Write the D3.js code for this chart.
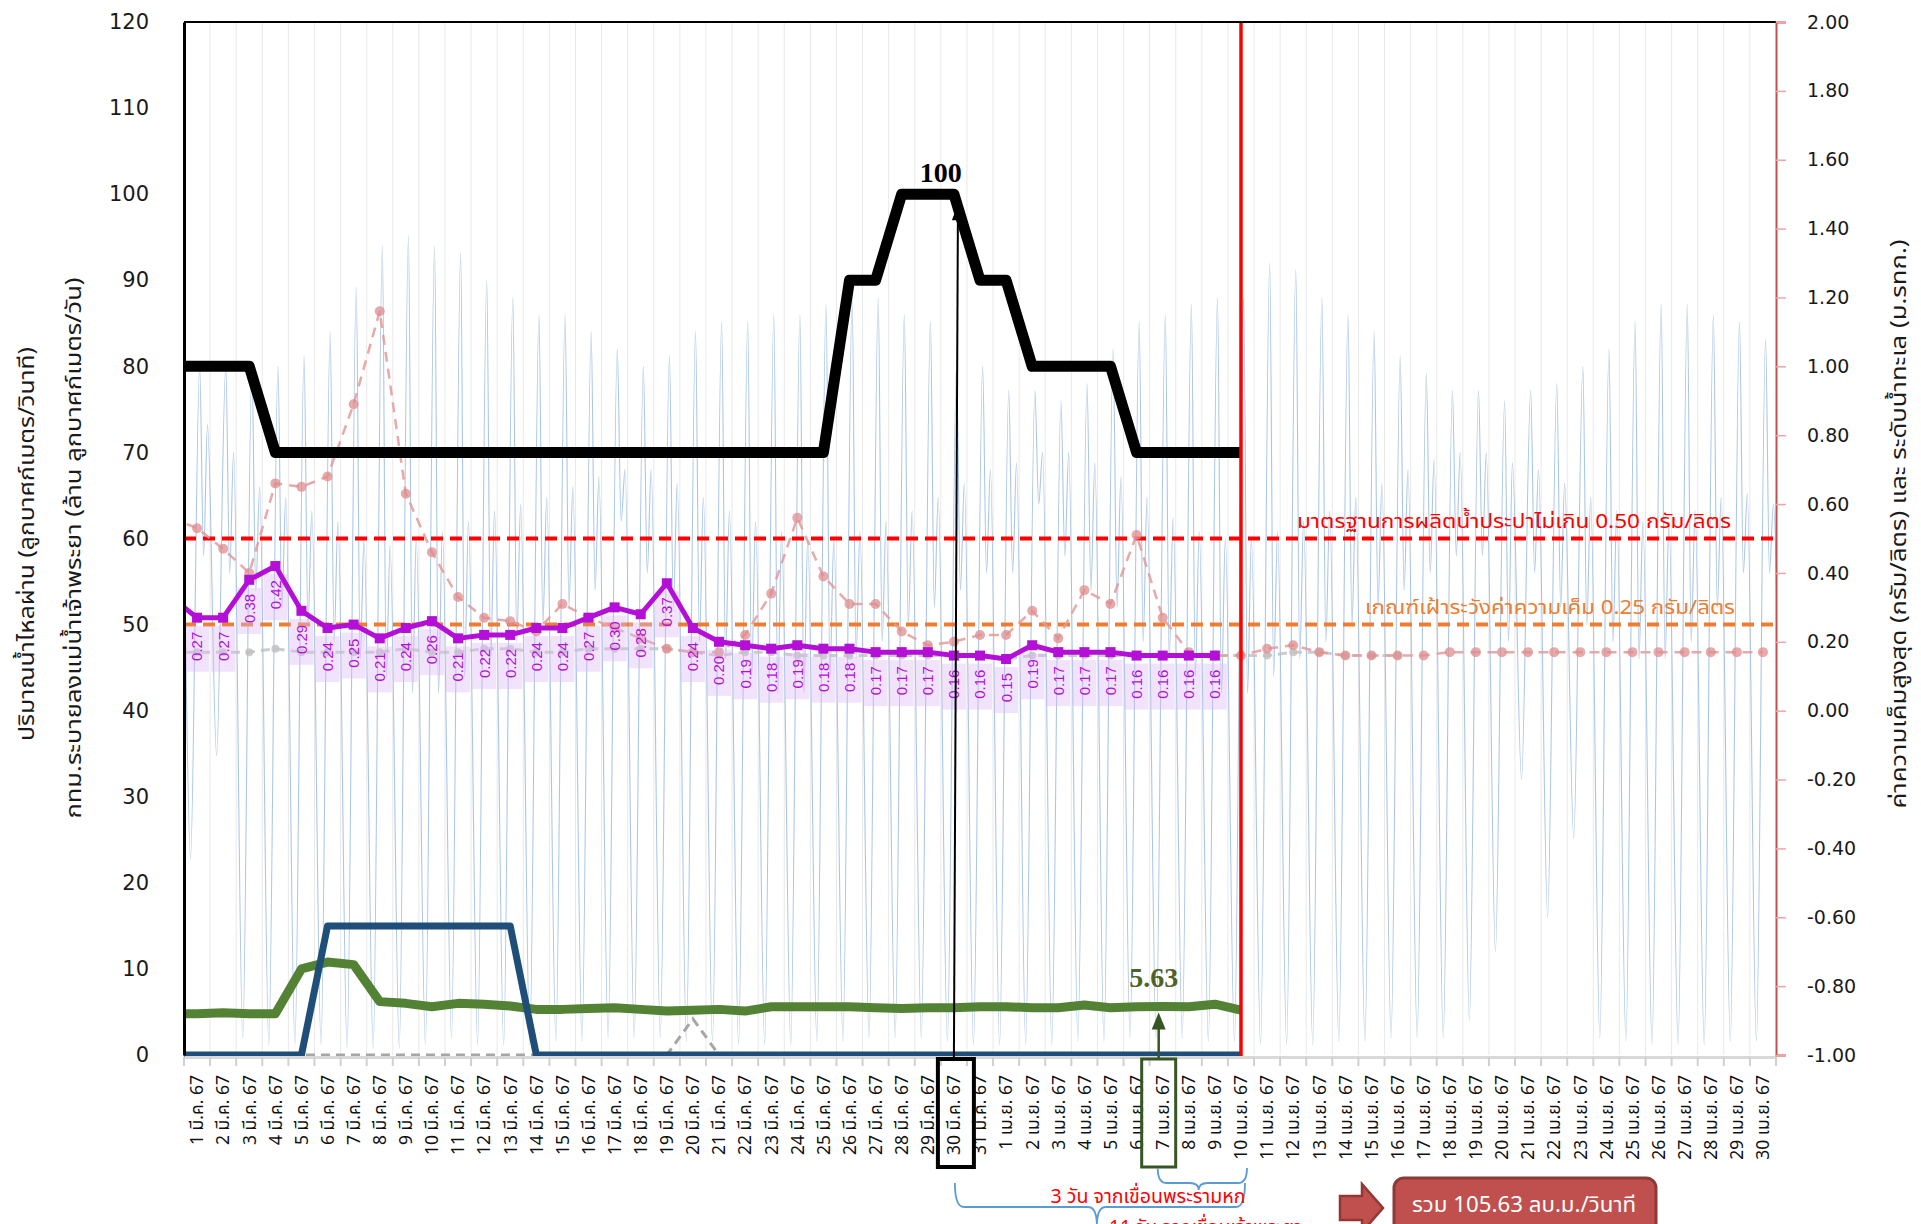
<!DOCTYPE html>
<html lang="th">
<head>
<meta charset="UTF-8">
<title>ปริมาณน้ำไหลผ่านและค่าความเค็ม มี.ค. - เม.ย. 67</title>
<style>
  body { margin: 0; background: #fff; }
  #chart { width: 1921px; height: 1224px; }
  .thai { font-family: Tahoma, "Noto Sans Thai", "Noto Sans Thai UI", Loma, Garuda, "Leelawadee UI", sans-serif; }
  .num { font-family: "DejaVu Sans", Verdana, sans-serif; }
  .lbl { font-family: "Liberation Sans", Arial, sans-serif; }
  .serif { font-family: "Liberation Serif", "Times New Roman", serif; font-weight: bold; }
</style>
</head>
<body>
<div id="chart"></div>
<script src="https://d3js.org/d3.v7.min.js"></script>
<script>
var width = 1921, height = 1224;
var plotLeft = 184, plotRight = 1776, plotTop = 22, plotBottom = 1055;

// tick labels
var marchLabels = d3.range(1, 32).map(function(d) { return d + ' มี.ค. 67'; });
var aprilLabels = d3.range(1, 31).map(function(d) { return d + ' เม.ย. 67'; });
var dayLabels = marchLabels.concat(aprilLabels);
var leftTicks = [0, 10, 20, 30, 40, 50, 60, 70, 80, 90, 100, 110, 120];
var rightTicks = [-1.00, -0.80, -0.60, -0.40, -0.20, 0.00, 0.20, 0.40, 0.60, 0.80, 1.00, 1.20, 1.40, 1.60, 1.80, 2.00];

// series: element 0 is 29 ก.พ. 67 (left of the axis, clipped away)
// flow past the dam (m3/s) - black
var flowDam = [80, 80, 80, 80, 70, 70, 70, 70, 70, 70, 70, 70, 70, 70, 70, 70, 70, 70, 70, 70, 70,
  70, 70, 70, 70, 70, 90, 90, 100, 100, 100, 90, 90, 80, 80, 80, 80, 70, 70, 70, 70, 70];
// BKK drainage (million m3/day) - dark blue
var bkkDrain = [0, 0, 0, 0, 0, 0, 15, 15, 15, 15, 15, 15, 15, 15, 0, 0, 0, 0, 0, 0, 0,
  0, 0, 0, 0, 0, 0, 0, 0, 0, 0, 0, 0, 0, 0, 0, 0, 0, 0, 0, 0, 0];
// flow (m3/s) - green
var flowRama6 = [4.8, 4.8, 4.9, 4.8, 4.8, 10.0, 10.8, 10.5, 6.2, 6.0, 5.6, 6.0, 5.9, 5.7, 5.3, 5.3,
  5.4, 5.5, 5.3, 5.1, 5.2, 5.3, 5.1, 5.6, 5.6, 5.6, 5.6, 5.5, 5.4, 5.5, 5.5, 5.6,
  5.6, 5.5, 5.5, 5.8, 5.5, 5.6, 5.63, 5.6, 5.9, 5.2];
// small flow series (grey dashed, left axis)
var flowOther = [0, 0, 0, 0, 0, 0, 0, 0, 0, 0, 0, 0, 0, 0, 0, 0, 0, 0, 0, 0, 4.2,
  0, 0, 0, 0, 0, 0, 0, 0, 0, 0, 0, 0, 0, 0, 0, 0, 0, 0, 0, 0, 0];
// max salinity (g/l) - purple, labelled
var salinity = [0.33, 0.27, 0.27, 0.38, 0.42, 0.29, 0.24, 0.25, 0.21, 0.24, 0.26, 0.21, 0.22, 0.22,
  0.24, 0.24, 0.27, 0.30, 0.28, 0.37, 0.24, 0.20, 0.19, 0.18, 0.19, 0.18, 0.18, 0.17, 0.17, 0.17,
  0.16, 0.16, 0.15, 0.19, 0.17, 0.17, 0.17, 0.16, 0.16, 0.16, 0.16];
// salinity comparison (pink dashed)
var salinityPrev = [0.56, 0.53, 0.47, 0.40, 0.66, 0.65, 0.68, 0.89, 1.16, 0.63, 0.46, 0.33, 0.27,
  0.26, 0.23, 0.31, 0.27, 0.24, 0.21, 0.18, 0.17, 0.17, 0.22, 0.34, 0.56, 0.39, 0.31, 0.31, 0.23,
  0.19, 0.20, 0.22, 0.22, 0.29, 0.21, 0.35, 0.31, 0.51, 0.27, 0.17, 0.16, 0.16, 0.18, 0.19, 0.17,
  0.16, 0.16, 0.16, 0.16, 0.17, 0.17, 0.17, 0.17, 0.17, 0.17, 0.17, 0.17, 0.17, 0.17, 0.17, 0.17, 0.17];
// salinity comparison (grey dashed)
var salinityGrey = [0.17, 0.17, 0.17, 0.17, 0.18, 0.17, 0.17, 0.17, 0.17, 0.18, 0.17, 0.17, 0.18,
  0.18, 0.17, 0.17, 0.18, 0.18, 0.18, 0.18, 0.17, 0.16, 0.17, 0.17, 0.16, 0.16, 0.16, 0.16, 0.16,
  0.16, 0.16, 0.16, 0.15, 0.16, 0.16, 0.16, 0.16, 0.16, 0.16, 0.16, 0.16, 0.16, 0.16, 0.17, 0.17,
  0.16, 0.16, 0.16];
// sea level (m MSL): per day main high, small dip, second high, low
var tideHigh = [1.00, 1.00, 1.00, 1.00, 1.00, 1.03, 1.10, 1.23, 1.35, 1.38, 1.35, 1.33, 1.25, 1.20,
  1.15, 1.15, 1.10, 1.05, 1.00, 1.03, 1.10, 1.13, 1.13, 1.15, 1.15, 1.18, 1.20, 1.20, 1.15, 1.13,
  1.00, 1.00, 0.93, 0.93, 0.90, 0.95, 1.05, 1.13, 1.15, 1.18, 1.20, 1.20, 1.30, 1.28, 1.20, 1.15,
  1.10, 1.03, 0.98, 0.93, 0.93, 0.90, 0.93, 0.95, 1.00, 1.05, 1.13, 1.18, 1.18, 1.15, 1.13, 1.08];
var tideMid = [0.30, 0.45, 0.40, 0.35, 0.30, 0.25, 0.20, 0.15, 0.10, 0.05, 0.05, 0.10, 0.15, 0.20,
  0.25, 0.30, 0.35, 0.55, 0.40, 0.30, 0.20, 0.15, 0.10, 0.05, 0.05, 0.10, 0.15, 0.20, 0.25, 0.30,
  0.35, 0.40, 0.40, 0.60, 0.45, 0.35, 0.30, 0.20, 0.15, 0.10, 0.05, 0.05, 0.10, 0.15, 0.20, 0.25,
  0.30, 0.35, 0.40, 0.45, 0.45, 0.20, 0.40, 0.30, 0.25, 0.20, 0.15, 0.15, 0.20, 0.30, 0.40, 0.40];
var tideHigh2 = [0.70, 0.83, 0.75, 0.65, 0.62, 0.58, 0.55, 0.50, 0.48, 0.50, 0.52, 0.55, 0.58, 0.60,
  0.62, 0.65, 0.68, 0.70, 0.70, 0.66, 0.62, 0.58, 0.55, 0.52, 0.50, 0.50, 0.52, 0.55, 0.58, 0.62,
  0.66, 0.70, 0.72, 0.75, 0.75, 0.72, 0.68, 0.62, 0.56, 0.52, 0.50, 0.50, 0.52, 0.55, 0.58, 0.62,
  0.66, 0.70, 0.73, 0.75, 0.75, 0.72, 0.70, 0.66, 0.62, 0.58, 0.55, 0.55, 0.58, 0.62, 0.63, 0.60];
var tideLow = [-0.43, -0.13, -0.95, -0.97, -0.97, -0.97, -0.98, -0.98, -0.98, -0.97, -0.95, -0.97,
  -0.97, -0.97, -0.96, -0.96, -0.95, -0.95, -0.95, -0.96, -0.96, -0.97, -0.97, -0.97, -0.96, -0.96,
  -0.95, -0.95, -0.95, -0.96, -0.97, -0.97, -0.97, -0.97, -0.96, -0.96, -0.95, -0.95, -0.95, -0.96,
  -0.96, -0.97, -0.97, -0.97, -0.96, -0.96, -0.95, -0.95, -0.95, -0.90, -0.70, -0.20, -0.60, -0.37,
  -0.95, -0.96, -0.97, -0.97, -0.97, -0.96, -0.96, -0.95];

var svg = d3.select('#chart').append('svg')
  .attr('width', width).attr('height', height);

var xBand = d3.scaleBand().domain(dayLabels).range([plotLeft, plotRight]);
var xDay = d3.scaleLinear().domain([0, dayLabels.length]).range([plotLeft, plotRight]);
function xAt(k) { return xDay(k - 0.5); }  // k: series index, 0 = 29 ก.พ.
var yL = d3.scaleLinear().domain([0, 120]).range([plotBottom, plotTop]);
var yR = d3.scaleLinear().domain([-1, 2]).range([plotBottom, plotTop]);

svg.append('clipPath').attr('id', 'plotclip')
  .append('rect').attr('x', plotLeft).attr('y', 0)
  .attr('width', plotRight - plotLeft).attr('height', plotBottom + 8);

// vertical grid at category borders
svg.append('g').selectAll('line')
  .data(d3.range(1, dayLabels.length))
  .enter().append('line')
  .attr('x1', function(d) { return xDay(d); }).attr('x2', function(d) { return xDay(d); })
  .attr('y1', plotTop).attr('y2', plotBottom)
  .attr('stroke', '#e9e9e9').attr('stroke-width', 1);

var plot = svg.append('g').attr('clip-path', 'url(#plotclip)');

// tide
var tidePts = [];
tideHigh.forEach(function(h, k) {
  var t = k - 1;
  tidePts.push([t + 0.6, h], [t + 0.75, tideMid[k]], [t + 0.9, tideHigh2[k]], [t + 1.25, tideLow[k]]);
});
plot.append('path')
  .datum(tidePts)
  .attr('fill', 'none')
  .attr('stroke', '#8fb3db')
  .attr('stroke-width', 1.1)
  .attr('opacity', 0.75)
  .attr('d', d3.line()
    .x(function(d) { return xDay(d[0]); })
    .y(function(d) { return yR(d[1]); })
    .curve(d3.curveMonotoneX));

// threshold lines
plot.append('line')
  .attr('x1', plotLeft).attr('x2', plotRight)
  .attr('y1', yR(0.5)).attr('y2', yR(0.5))
  .attr('stroke', '#ff0000').attr('stroke-width', 4).attr('stroke-dasharray', '12,7');
plot.append('line')
  .attr('x1', plotLeft).attr('x2', plotRight)
  .attr('y1', yR(0.25)).attr('y2', yR(0.25))
  .attr('stroke', '#ed7d31').attr('stroke-width', 4).attr('stroke-dasharray', '12,7');

svg.append('text').attr('class', 'thai')
  .attr('x', 1731).attr('y', yR(0.5) - 11)
  .attr('text-anchor', 'end').attr('font-size', 20).attr('fill', '#ff0000')
  .attr('textLength', 434).attr('lengthAdjust', 'spacingAndGlyphs')
  .text('มาตรฐานการผลิตน้ำประปาไม่เกิน  0.50 กรัม/ลิตร');
svg.append('text').attr('class', 'thai')
  .attr('x', 1735).attr('y', yR(0.25) - 11)
  .attr('text-anchor', 'end').attr('font-size', 20).attr('fill', '#ed7d31')
  .attr('textLength', 370).attr('lengthAdjust', 'spacingAndGlyphs')
  .text('เกณฑ์เฝ้าระวังค่าความเค็ม  0.25 กรัม/ลิตร');

function seriesLine(y) {
  return d3.line().x(function(d, k) { return xAt(k); }).y(function(d) { return y(d); });
}

// grey & pink dashed salinity comparisons
plot.append('path').datum(salinityGrey)
  .attr('fill', 'none').attr('stroke', '#bfbfbf').attr('stroke-width', 3)
  .attr('stroke-dasharray', '9,6').attr('opacity', 0.8)
  .attr('d', seriesLine(yR));
plot.append('g').selectAll('circle').data(salinityGrey).enter().append('circle')
  .attr('cx', function(d, k) { return xAt(k); }).attr('cy', function(d) { return yR(d); })
  .attr('r', 4).attr('fill', '#bfbfbf').attr('opacity', 0.8);

plot.append('path').datum(salinityPrev)
  .attr('fill', 'none').attr('stroke', '#e49a9a').attr('stroke-width', 2.5)
  .attr('stroke-dasharray', '10,7').attr('opacity', 0.85)
  .attr('d', seriesLine(yR));
plot.append('g').selectAll('circle').data(salinityPrev).enter().append('circle')
  .attr('cx', function(d, k) { return xAt(k); }).attr('cy', function(d) { return yR(d); })
  .attr('r', 5).attr('fill', '#df8c8c').attr('opacity', 0.75);

// purple labels with light boxes
var plabels = plot.append('g').selectAll('g')
  .data(salinity.slice(1)).enter().append('g')
  .attr('transform', function(d, i) { return 'translate(' + xAt(i + 1) + ',' + (yR(d) + 8) + ')'; });
plabels.append('rect')
  .attr('x', -12).attr('y', 0).attr('width', 24).attr('height', 46)
  .attr('fill', '#dcb8f4').attr('opacity', 0.4);
plabels.append('text').attr('class', 'lbl')
  .attr('transform', 'rotate(-90)')
  .attr('x', -6).attr('dy', '0.36em')
  .attr('text-anchor', 'end').attr('font-size', 15).attr('fill', '#b40fd6')
  .text(function(d) { return d3.format('.2f')(d); });

// grey flow near zero
plot.append('path').datum(flowOther)
  .attr('fill', 'none').attr('stroke', '#a6a6a6').attr('stroke-width', 3)
  .attr('stroke-dasharray', '9,6')
  .attr('d', seriesLine(yL));

// purple salinity line + square markers
plot.append('path').datum(salinity)
  .attr('fill', 'none').attr('stroke', '#b40fd6').attr('stroke-width', 5)
  .attr('stroke-linejoin', 'round')
  .attr('d', seriesLine(yR));
plot.append('g').selectAll('rect').data(salinity).enter().append('rect')
  .attr('x', function(d, k) { return xAt(k) - 5; }).attr('y', function(d) { return yR(d) - 5; })
  .attr('width', 10).attr('height', 10).attr('fill', '#b40fd6');

// green flow
plot.append('path').datum(flowRama6)
  .attr('fill', 'none').attr('stroke', '#548235').attr('stroke-width', 9)
  .attr('stroke-linejoin', 'round')
  .attr('d', seriesLine(yL));

// BKK drainage
plot.append('path').datum(bkkDrain)
  .attr('fill', 'none').attr('stroke', '#1f4e79').attr('stroke-width', 7)
  .attr('stroke-linejoin', 'round')
  .attr('d', seriesLine(yL));

// dam flow
plot.append('path').datum(flowDam)
  .attr('fill', 'none').attr('stroke', '#000').attr('stroke-width', 11)
  .attr('stroke-linejoin', 'round')
  .attr('d', seriesLine(yL));

// today marker
svg.append('line')
  .attr('x1', xAt(41)).attr('x2', xAt(41))
  .attr('y1', plotTop).attr('y2', plotBottom + 2)
  .attr('stroke', '#ff0000').attr('stroke-width', 3.5);

// x axis
var xAxis = svg.append('g')
  .attr('transform', 'translate(0,' + (plotBottom + 2) + ')')
  .call(d3.axisBottom(xBand).tickSize(0).tickPadding(0));
xAxis.select('.domain').attr('stroke', '#d9d9d9').attr('stroke-width', 3);
xAxis.selectAll('.tick text')
  .attr('class', 'thai')
  .attr('font-size', 17.5)
  .attr('fill', '#111')
  .attr('text-anchor', 'end')
  .attr('transform', 'rotate(-90)')
  .attr('x', -18).attr('y', 0).attr('dy', '0.36em');
svg.append('g').selectAll('line')
  .data(d3.range(0, dayLabels.length + 1))
  .enter().append('line')
  .attr('x1', function(d) { return xDay(d); }).attr('x2', function(d) { return xDay(d); })
  .attr('y1', plotBottom + 2).attr('y2', plotBottom + 11)
  .attr('stroke', '#d0d0d0').attr('stroke-width', 2);

// left axis
var leftAxis = svg.append('g')
  .attr('transform', 'translate(' + plotLeft + ',0)')
  .call(d3.axisLeft(yL).tickValues(leftTicks).tickSize(0).tickPadding(35));
leftAxis.select('.domain').attr('stroke', '#000').attr('stroke-width', 3);
leftAxis.selectAll('.tick text').attr('class', 'num').attr('font-size', 21).attr('fill', '#1a1a1a');

// top border
svg.append('line')
  .attr('x1', plotLeft).attr('x2', plotRight)
  .attr('y1', plotTop).attr('y2', plotTop)
  .attr('stroke', '#000').attr('stroke-width', 2);

// right axis
var rightAxis = svg.append('g')
  .attr('transform', 'translate(' + plotRight + ',0)')
  .call(d3.axisRight(yR).tickValues(rightTicks).tickSize(10).tickPadding(21)
    .tickFormat(function(d) { return (Math.abs(d) < 1e-9 ? 0 : d).toFixed(2); }));
rightAxis.select('.domain').attr('stroke', '#c0504d').attr('stroke-width', 2);
rightAxis.selectAll('.tick line').attr('stroke', '#f4a3a3').attr('stroke-width', 1.5);
rightAxis.selectAll('.tick text').attr('class', 'num').attr('font-size', 19).attr('fill', '#1a1a1a');

// axis titles
svg.append('text').attr('class', 'thai')
  .attr('transform', 'translate(27,544) rotate(-90)')
  .attr('text-anchor', 'middle').attr('dy', '0.35em').attr('font-size', 21).attr('fill', '#1a1a1a')
  .attr('textLength', 394).attr('lengthAdjust', 'spacingAndGlyphs')
  .text('ปริมาณน้ำไหลผ่าน (ลูกบาศก์เมตร/วินาที)');
svg.append('text').attr('class', 'thai')
  .attr('transform', 'translate(74,548) rotate(-90)')
  .attr('text-anchor', 'middle').attr('dy', '0.35em').attr('font-size', 21).attr('fill', '#1a1a1a')
  .attr('textLength', 541).attr('lengthAdjust', 'spacingAndGlyphs')
  .text('กทม.ระบายลงแม่น้ำเจ้าพระยา (ล้าน ลูกบาศก์เมตร/วัน)');
svg.append('text').attr('class', 'thai')
  .attr('transform', 'translate(1899,524) rotate(-90)')
  .attr('text-anchor', 'middle').attr('dy', '0.35em').attr('font-size', 21).attr('fill', '#1a1a1a')
  .attr('textLength', 569).attr('lengthAdjust', 'spacingAndGlyphs')
  .text('ค่าความเค็มสูงสุด  (กรัม/ลิตร) และ  ระดับน้ำทะเล (ม.รทก.)');

// annotation: peak 100 on 30 มี.ค.
var xMar30 = xAt(30), xApr7 = xAt(38);
svg.append('text').attr('class', 'serif')
  .attr('x', xDay(29)).attr('y', yL(100) - 12)
  .attr('text-anchor', 'middle').attr('font-size', 28).attr('fill', '#000')
  .text('100');
svg.append('line')
  .attr('x1', xMar30).attr('y1', plotBottom + 3)
  .attr('x2', xMar30 + 4).attr('y2', yL(100) + 22)
  .attr('stroke', '#000').attr('stroke-width', 2);
svg.append('path')
  .attr('d', 'M' + (xMar30 + 4) + ',' + (yL(100) + 10) + 'l-6,16l12,0z')
  .attr('fill', '#000');
svg.append('rect')
  .attr('x', xMar30 - 16).attr('y', plotBottom + 4)
  .attr('width', 36).attr('height', 108)
  .attr('fill', 'none').attr('stroke', '#000').attr('stroke-width', 4);

// annotation: 5.63 on 7 เม.ย.
svg.append('text').attr('class', 'serif')
  .attr('x', xApr7 - 9).attr('y', yL(5.63) - 20)
  .attr('text-anchor', 'middle').attr('font-size', 28).attr('fill', '#4f6228')
  .text('5.63');
svg.append('line')
  .attr('x1', xApr7 - 4).attr('y1', plotBottom + 4)
  .attr('x2', xApr7 - 4).attr('y2', yL(5.63) + 14)
  .attr('stroke', '#375623').attr('stroke-width', 2.5);
svg.append('path')
  .attr('d', 'M' + (xApr7 - 4) + ',' + (yL(5.63) + 6) + 'l-7,17l14,0z')
  .attr('fill', '#375623');
svg.append('rect')
  .attr('x', xApr7 - 21).attr('y', plotBottom + 4)
  .attr('width', 34).attr('height', 108)
  .attr('fill', 'none').attr('stroke', '#375623').attr('stroke-width', 3);

// braces
function brace(x1, x2, xm, yTop, yBar, yTip) {
  var r = 9;
  return 'M' + x1 + ',' + yTop + 'Q' + x1 + ',' + yBar + ' ' + (x1 + r) + ',' + yBar +
    'L' + (xm - r) + ',' + yBar + 'Q' + xm + ',' + yBar + ' ' + xm + ',' + yTip +
    'Q' + xm + ',' + yBar + ' ' + (xm + r) + ',' + yBar +
    'L' + (x2 - r) + ',' + yBar + 'Q' + x2 + ',' + yBar + ' ' + x2 + ',' + yTop;
}
svg.append('path')
  .attr('d', brace(xApr7 - 5, xAt(41) + 6, xApr7 + 36, 1168, 1183, 1190))
  .attr('fill', 'none').attr('stroke', '#5b9bd5').attr('stroke-width', 1.8);
svg.append('path')
  .attr('d', brace(xMar30 + 1, xAt(41) + 4, xMar30 + 143, 1183, 1207, 1226))
  .attr('fill', 'none').attr('stroke', '#5b9bd5').attr('stroke-width', 1.8);

svg.append('text').attr('class', 'thai')
  .attr('x', 1148).attr('y', 1203)
  .attr('text-anchor', 'middle').attr('font-size', 20).attr('fill', '#ff0000')
  .attr('textLength', 195).attr('lengthAdjust', 'spacingAndGlyphs')
  .text('3 วัน จากเขื่อนพระรามหก');
svg.append('text').attr('class', 'thai')
  .attr('x', 1109).attr('y', 1234)
  .attr('font-size', 20).attr('fill', '#ff0000')
  .attr('textLength', 193).attr('lengthAdjust', 'spacingAndGlyphs')
  .text('11 วัน จากเขื่อนเจ้าพระยา');

// total box
svg.append('path')
  .attr('d', 'M1340,1196L1362,1196L1362,1184L1383,1208L1362,1232L1362,1220L1340,1220Z')
  .attr('fill', '#c0504d').attr('stroke', '#943634').attr('stroke-width', 2.5);
svg.append('rect')
  .attr('x', 1394).attr('y', 1178).attr('width', 262).attr('height', 70).attr('rx', 10)
  .attr('fill', '#c0504d').attr('stroke', '#8c3a38').attr('stroke-width', 3);
svg.append('text').attr('class', 'thai')
  .attr('x', 1524).attr('y', 1212)
  .attr('text-anchor', 'middle').attr('font-size', 22).attr('fill', '#fff')
  .attr('textLength', 224).attr('lengthAdjust', 'spacingAndGlyphs')
  .text('รวม 105.63 ลบ.ม./วินาที');
</script>
</body>
</html>
